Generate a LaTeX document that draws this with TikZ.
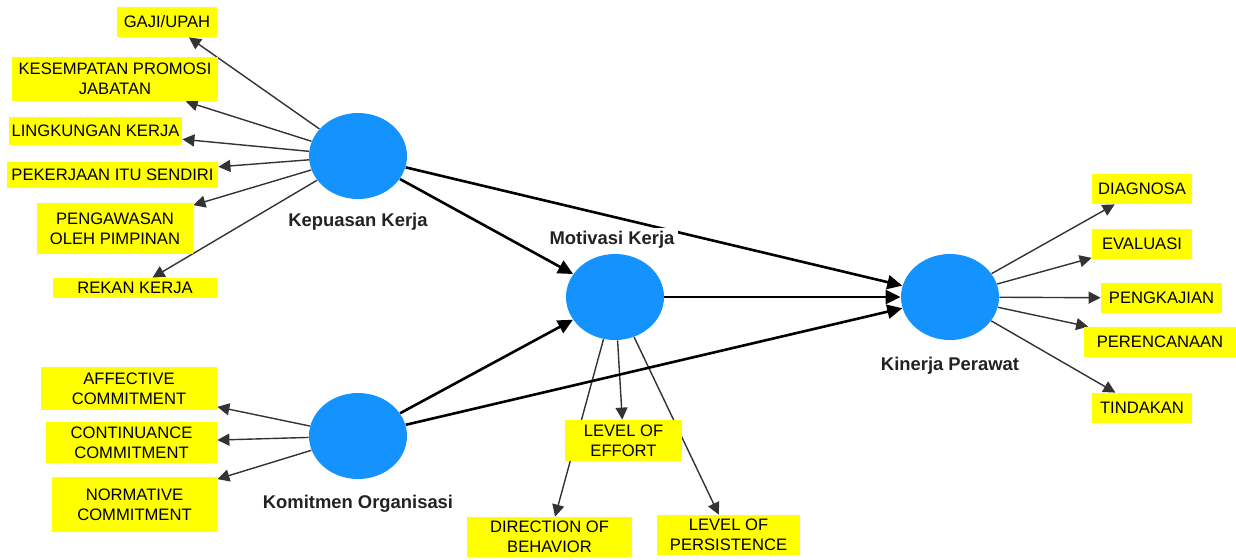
\documentclass[tikz,border=0pt]{standalone}
\usepackage{fontspec}
\setmainfont{Liberation Sans}
\usetikzlibrary{shapes.geometric,arrows.meta,backgrounds}
\definecolor{lvblue}{RGB}{20,147,255}
\definecolor{indyellow}{RGB}{255,255,0}
\definecolor{labgray}{RGB}{34,34,34}
\begin{document}
\begin{tikzpicture}[x=0.5pt,y=-0.5pt,
  latent/.style={ellipse,fill=lvblue,draw=none,minimum width=49pt,minimum height=43pt,inner sep=0pt},
  ind/.style 2 args={rectangle,fill=indyellow,draw=none,minimum width=#1*0.5pt,minimum height=#2*0.5pt,inner sep=1pt,align=center,font=\fontsize{8.3}{10}\selectfont,text=black},
  lvlabel/.style={font=\fontsize{9.2}{11}\selectfont\bfseries,text=labgray,fill=white,inner xsep=2pt,inner ysep=1.5pt,anchor=base},
  loading/.style={draw=black!80,line width=0.7pt,-{Triangle[length=6pt,width=6pt]}},
  structural/.style={draw=black,line width=1.3pt,-{Triangle[length=7.5pt,width=7pt]}}]
\useasboundingbox (0,0) rectangle (1236,559);
% latent variables
\node[latent] (kep) at (358,156) {};
\node[latent] (kom) at (358,436) {};
\node[latent] (mot) at (615,297) {};
\node[latent] (kin) at (950,297) {};
% indicators of Kepuasan Kerja
\node[ind={100}{30}] (gaji) at (167,22) {GAJI/UPAH};
\node[ind={206}{44}] (kes) at (115,79) {KESEMPATAN PROMOSI\\JABATAN};
\node[ind={173}{28}] (ling) at (95.5,131) {LINGKUNGAN KERJA};
\node[ind={211}{26}] (pek) at (112.5,175) {PEKERJAAN ITU SENDIRI};
\node[ind={156}{51}] (peng) at (115,228.5) {PENGAWASAN\\OLEH PIMPINAN};
\node[ind={164}{20}] (rek) at (135,288) {REKAN KERJA};
% indicators of Komitmen Organisasi
\node[ind={176}{43}] (aff) at (129,388.5) {AFFECTIVE\\COMMITMENT};
\node[ind={171}{41}] (con) at (131.5,442.5) {CONTINUANCE\\COMMITMENT};
\node[ind={165}{55}] (nor) at (134.5,504.5) {NORMATIVE\\COMMITMENT};
% indicators of Motivasi Kerja
\node[ind={117}{41}] (eff) at (623.5,440.5) {LEVEL OF\\EFFORT};
\node[ind={165}{40}] (dir) at (549.5,537) {DIRECTION OF\\BEHAVIOR};
\node[ind={143}{40}] (per) at (728.5,535) {LEVEL OF\\PERSISTENCE};
% indicators of Kinerja Perawat
\node[ind={100}{30}] (dia) at (1142,189) {DIAGNOSA};
\node[ind={100}{30}] (eva) at (1142,244) {EVALUASI};
\node[ind={121}{30}] (pkj) at (1161.5,298) {PENGKAJIAN};
\node[ind={152}{30}] (prc) at (1160,342) {PERENCANAAN};
\node[ind={100}{30}] (tin) at (1142,408) {TINDAKAN};
% labels
\node[lvlabel] (lkep) at (358,226) {Kepuasan Kerja};
\node[lvlabel] (lkom) at (358,508) {Komitmen Organisasi};
\node[lvlabel] (lmot) at (612,244) {Motivasi Kerja};
\node[lvlabel] (lkin) at (950,370) {Kinerja Perawat};
% connectors
\begin{scope}[on background layer]
  \fill[white] (0,0) rectangle (1236,559);
  \foreach \t in {gaji,kes,ling,pek,peng,rek} \draw[loading] (kep) -- (\t);
  \foreach \t in {aff,con,nor} \draw[loading] (kom) -- (\t);
  \foreach \t in {eff,dir,per} \draw[loading] (mot) -- (\t);
  \foreach \t in {dia,eva,pkj,prc,tin} \draw[loading] (kin) -- (\t);
  \draw[structural] (kep) -- (mot);
  \draw[structural] (kep) -- (kin);
  \draw[structural] (kom) -- (mot);
  \draw[structural] (kom) -- (kin);
  \draw[structural] (mot) -- (kin);
\end{scope}
\end{tikzpicture}
\end{document}
